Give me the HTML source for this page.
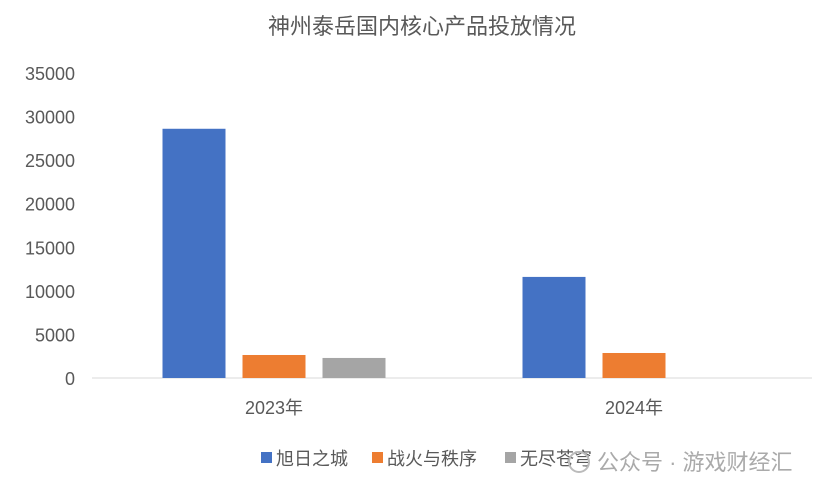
<!DOCTYPE html>
<html><head><meta charset="utf-8"><style>
body{margin:0;background:#fff;font-family:"Liberation Sans","Noto Sans CJK SC",sans-serif;}
svg text{font-family:"Liberation Sans","Noto Sans CJK SC",sans-serif;}
</style></head><body>
<svg id="c" width="820" height="495" xmlns="http://www.w3.org/2000/svg">
<text x="422" y="34" text-anchor="middle" font-size="22" fill="#595959">神州泰岳国内核心产品投放情况</text>
<g id="ax"></g><g id="bars"></g>
<g>
<rect x="261" y="452" width="11" height="11" fill="#4472C4"/>
<text x="276" y="465" font-size="18" fill="#595959">旭日之城</text>
<rect x="372" y="452" width="11" height="11" fill="#ED7D31"/>
<text x="387" y="465" font-size="18" fill="#595959">战火与秩序</text>
<rect x="505" y="452" width="11" height="11" fill="#A5A5A5"/>
<text x="520" y="465" font-size="18" fill="#595959">无尽苍穹</text>
</g>
<g>
<circle cx="579" cy="462" r="10" fill="none" stroke="#bbb" stroke-width="2"/>
<text x="597" y="470" font-size="22" fill="#aaa">公众号 · 游戏财经汇</text>
</g>
</svg>
<script>
const categories=["2023年","2024年"];
const seriesNames=["旭日之城","战火与秩序","无尽苍穹"];
const xuri=[28600,11600];
const zhanhuo=[2640,2870];
const wujin=[2300,0];
const ticks=[0,5000,10000,15000,20000,25000,30000,35000];
const colors=["#4472C4","#ED7D31","#A5A5A5"];
const NS="http://www.w3.org/2000/svg";
const y0=378,y1=73,maxV=35000,x0=94,x1=814;
const yS=v=>y0-(v/maxV)*(y0-y1);
const catW=(x1-x0)/categories.length;
const ax=document.getElementById('ax'),bg=document.getElementById('bars');
function mk(t,a,p){const e=document.createElementNS(NS,t);for(const k in a)e.setAttribute(k,a[k]);p.appendChild(e);return e;}
ticks.forEach(t=>{const e=mk('text',{x:75,y:yS(t)+7,'text-anchor':'end','font-size':18,fill:'#595959'},ax);e.textContent=t;

});
const axl=mk('line',{x1:x0-2,x2:x1-2,y1:y0,y2:y0,stroke:'#D9D9D9','stroke-width':1},ax);


const series=[xuri,zhanhuo,wujin];
const bw=63,step=80;
categories.forEach((c,i)=>{const cx=x0+catW*(i+0.5);
const t=mk('text',{x:cx,y:414,'text-anchor':'middle','font-size':18,fill:'#595959'},ax);t.textContent=c;


series.forEach((s,j)=>{if(!s[i])return;const bx=cx-step+j*step-bw/2;
const r=mk('rect',{x:bx,y:yS(s[i]),width:bw,height:y0-yS(s[i]),fill:colors[j]},bg);

});});
</script>
</body></html>
